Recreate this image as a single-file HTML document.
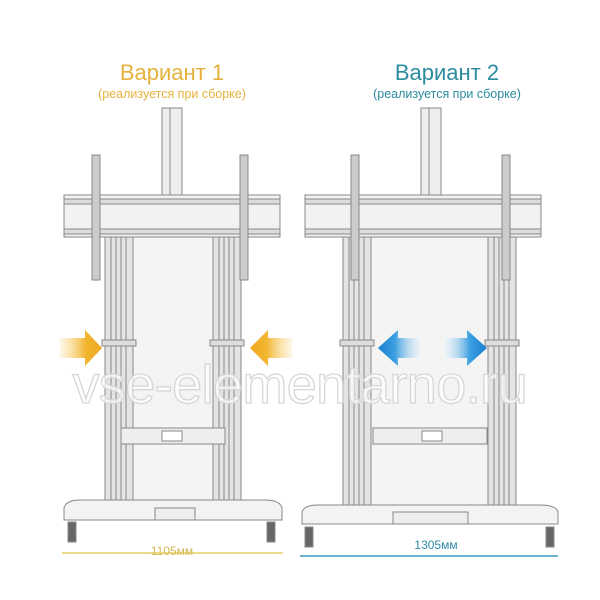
<!DOCTYPE html>
<html><head><meta charset="utf-8"><style>
html,body{margin:0;padding:0;background:#fff}
svg{display:block}
text{font-family:"Liberation Sans",sans-serif}
</style></head><body>
<svg width="600" height="600" viewBox="0 0 600 600">
<defs>
<linearGradient id="og" x1="0" x2="1"><stop offset="0" stop-color="#fbe3a8" stop-opacity="0.3"/><stop offset="0.6" stop-color="#f2b630"/><stop offset="1" stop-color="#eea920"/></linearGradient>
<linearGradient id="og2" x1="1" x2="0"><stop offset="0" stop-color="#fbe3a8" stop-opacity="0.3"/><stop offset="0.6" stop-color="#f2b630"/><stop offset="1" stop-color="#eea920"/></linearGradient>
<linearGradient id="bg1" x1="1" x2="0"><stop offset="0" stop-color="#cfe8f8" stop-opacity="0.2"/><stop offset="0.6" stop-color="#3a9ee0"/><stop offset="1" stop-color="#1a7fcf"/></linearGradient>
<linearGradient id="bg2" x1="0" x2="1"><stop offset="0" stop-color="#cfe8f8" stop-opacity="0.2"/><stop offset="0.6" stop-color="#3a9ee0"/><stop offset="1" stop-color="#1a7fcf"/></linearGradient>
<g id="col" stroke="#888" stroke-width="1" fill="#e4e4e4">
<rect x="0" y="0" width="28" height="270"/>
<line x1="6" y1="0" x2="6" y2="270"/><line x1="11" y1="0" x2="11" y2="270"/><line x1="16" y1="0" x2="16" y2="270"/><line x1="21" y1="0" x2="21" y2="270"/>
<rect x="-3" y="103" width="34" height="6" fill="#ddd"/>
</g>
</defs>
<!-- titles -->
<text x="172" y="80" font-size="22" fill="#e6b13c" text-anchor="middle">Вариант 1</text>
<text x="172" y="98" font-size="12.5" fill="#e6b13c" text-anchor="middle">(реализуется при сборке)</text>
<text x="447" y="80" font-size="22" fill="#2a8c9e" text-anchor="middle">Вариант 2</text>
<text x="447" y="98" font-size="12.5" fill="#2a8c9e" text-anchor="middle">(реализуется при сборке)</text>

<!-- LEFT STAND -->
<g stroke="#888" stroke-width="1">
<rect x="162" y="108" width="20" height="88" fill="#eee"/><line x1="170" y1="108" x2="170" y2="196"/>
<rect x="130" y="236" width="85" height="270" fill="#f4f4f4" stroke="none"/>
<use href="#col" x="105" y="237"/>
<use href="#col" x="213" y="237"/>
<rect x="64" y="195" width="216" height="42" fill="#f2f2f2"/>
<rect x="64" y="199" width="216" height="5" fill="#ddd"/>
<rect x="64" y="229" width="216" height="5" fill="#ddd"/>
<rect x="92" y="155" width="8" height="125" fill="#ccc"/>
<rect x="240" y="155" width="8" height="125" fill="#ccc"/>
<rect x="121" y="428" width="104" height="16" fill="#eee"/>
<rect x="162" y="431" width="20" height="10" fill="#fff"/>
<path d="M64 508 Q66 500 80 500 L265 500 Q280 500 282 508 L282 520 L64 520 Z" fill="#f3f3f3"/>
<rect x="155" y="508" width="40" height="12" fill="#eee"/>
<rect x="68" y="522" width="8" height="20" fill="#666"/>
<rect x="267" y="522" width="8" height="20" fill="#666"/>
</g>
<line x1="62" y1="553" x2="283" y2="553" stroke="#e6d060" stroke-width="1.5"/>
<text x="172" y="555" font-size="12" fill="#d4b850" text-anchor="middle">1105мм</text>
<path d="M60 338 L85 338 L85 330 L102 348 L85 366 L85 358 L60 358 Z" fill="url(#og)"/>
<path d="M292 338 L268 338 L268 330 L250 348 L268 366 L268 358 L292 358 Z" fill="url(#og2)"/>

<!-- RIGHT STAND -->
<g stroke="#888" stroke-width="1">
<rect x="421" y="108" width="20" height="88" fill="#eee"/><line x1="429" y1="108" x2="429" y2="196"/>
<rect x="370" y="236" width="120" height="270" fill="#f4f4f4" stroke="none"/>
<use href="#col" x="343" y="237"/>
<use href="#col" x="488" y="237"/>
<rect x="305" y="195" width="236" height="42" fill="#f2f2f2"/>
<rect x="305" y="199" width="236" height="5" fill="#ddd"/>
<rect x="305" y="229" width="236" height="5" fill="#ddd"/>
<rect x="351" y="155" width="8" height="125" fill="#ccc"/>
<rect x="502" y="155" width="8" height="125" fill="#ccc"/>
<rect x="373" y="428" width="114" height="16" fill="#eee"/>
<rect x="422" y="431" width="20" height="10" fill="#fff"/>
<path d="M302 512 Q304 505 318 505 L540 505 Q556 505 558 512 L558 524 L302 524 Z" fill="#f3f3f3"/>
<rect x="393" y="512" width="75" height="12" fill="#eee"/>
<rect x="305" y="527" width="8" height="20" fill="#666"/>
<rect x="546" y="527" width="8" height="20" fill="#666"/>
</g>
<line x1="300" y1="556" x2="558" y2="556" stroke="#3a9cc0" stroke-width="1.5"/>
<text x="436" y="549" font-size="12" fill="#2f8aa8" text-anchor="middle">1305мм</text>
<path d="M420 338 L398 338 L398 330 L378 348 L398 366 L398 358 L420 358 Z" fill="url(#bg1)"/>
<path d="M445 338 L467 338 L467 330 L487 348 L467 366 L467 358 L445 358 Z" fill="url(#bg2)"/>

<!-- watermark -->
<text x="300" y="403" font-size="54" fill="#fff" fill-opacity="0.7" stroke="#d6d6d6" stroke-width="1.3" text-anchor="middle" textLength="455">vse-elementarno.ru</text>
</svg>
</body></html>
